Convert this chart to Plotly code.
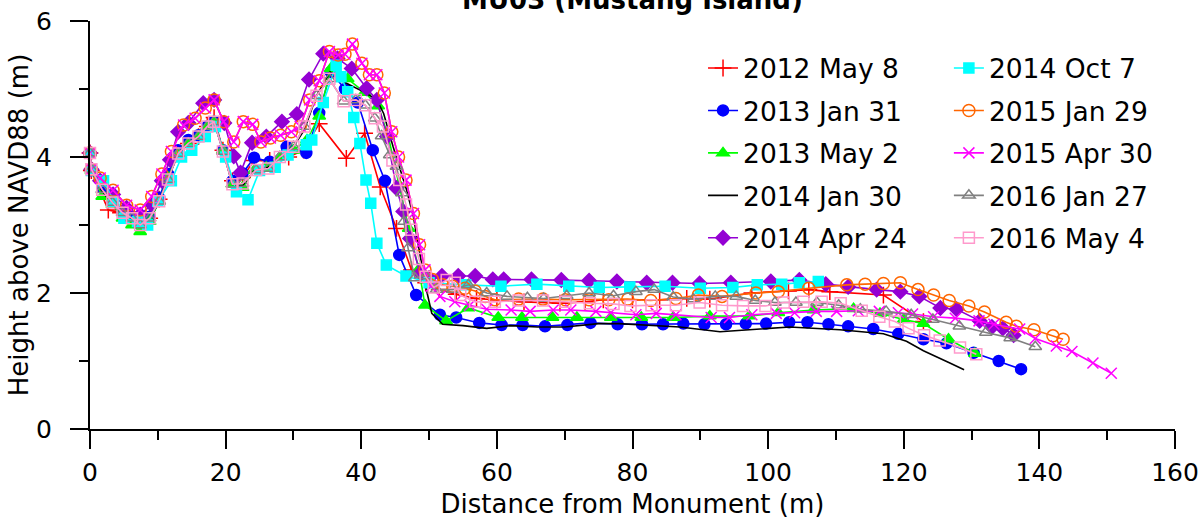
import plotly.graph_objects as go

# profile survey data, MU03 (Mustang Island)
# distance from monument (m) / height above NAVD88 (m)

x_2012_may08 = [0, 0.2, 2.7, 4.5, 6.2, 7.4, 8.8, 10.2, 11.5, 13.0, 14.5, 16.0, 17.3, 18.3, 19.6, 21.0, 22.5, 24.2,
                26.5, 29.3, 31.5, 33.8, 37.8, 40.5, 42.8, 45.2, 47.4, 49.5, 51.5, 54.0, 57.0, 60.0, 64.0, 69.3,
                73.0, 75.7, 80.0, 84.0, 88.0, 91.4, 97.6, 103.0, 106.0, 109.1, 117.0, 122.9]
y_2012_may08 = [4.06, 3.80, 3.22, 3.18, 3.10, 3.05, 3.10, 3.38, 3.70, 4.05, 4.20, 4.30, 4.45, 4.58, 4.10, 3.65, 3.70, 3.95,
                3.95, 4.00, 4.10, 4.49, 3.98, 4.35, 3.56, 2.95, 2.34, 2.15, 2.05, 1.98, 1.92, 1.90, 1.87, 1.85,
                1.87, 1.90, 1.90, 1.90, 1.92, 1.91, 2.00, 2.03, 2.05, 2.02, 1.97, 1.58]

x_2013_jan31 = [0, 0.2, 1.8, 3.3, 4.8, 6.2, 7.4, 8.8, 10.2, 11.5, 13.0, 14.5, 16.0, 17.3, 18.3, 19.6, 21.0, 22.5, 24.2,
                26.5, 29.0, 31.9, 33.8, 35.5, 37.6, 39.5, 41.7, 43.5, 45.6, 48.1, 51.6, 54.0, 57.4, 60.7, 63.8,
                67.1, 70.4, 73.8, 77.8, 81.4, 84.5, 87.5, 90.6, 93.8, 96.7, 99.7, 103.1, 105.8, 108.9, 111.8,
                115.5, 119.2, 122.9, 126.3, 130.3, 134.0, 137.3]
y_2013_jan31 = [4.06, 3.82, 3.55, 3.35, 3.20, 3.12, 3.05, 3.12, 3.40, 3.75, 4.10, 4.25, 4.32, 4.45, 4.52, 4.10, 3.65, 3.76, 3.99,
                3.93, 4.15, 4.06, 4.65, 5.25, 5.00, 4.80, 4.10, 3.65, 2.56, 1.97, 1.68, 1.64, 1.56, 1.53, 1.53,
                1.51, 1.53, 1.56, 1.54, 1.54, 1.54, 1.55, 1.54, 1.54, 1.55, 1.55, 1.57, 1.57, 1.54, 1.51,
                1.47, 1.40, 1.32, 1.26, 1.12, 1.00, 0.88]

x_2013_may02 = [0, 0.2, 1.8, 3.3, 4.8, 6.2, 7.4, 8.8, 10.2, 11.5, 13.0, 14.5, 16.0, 17.3, 18.3, 19.6, 21.0, 22.5, 24.2,
                26.0, 28.0, 30.0, 32.0, 33.8, 35.5, 38.0, 40.5, 42.5, 44.0, 45.5, 47.0, 48.5, 49.4, 52.5, 55.8,
                60.2, 63.7, 68.2, 71.8, 76.8, 81.3, 86.0, 91.4, 97.2, 101.5, 106.7, 112.6, 116.5, 120.0, 122.9,
                126.6, 130.5]
y_2013_may02 = [4.06, 3.80, 3.42, 3.30, 3.10, 3.00, 2.90, 3.05, 3.35, 3.70, 4.05, 4.20, 4.30, 4.45, 4.52, 4.10, 3.60, 3.55, 3.80,
                3.85, 4.00, 4.10, 4.25, 4.60, 5.30, 5.15, 4.95, 4.75, 4.30, 3.60, 2.95, 2.35, 1.82, 1.59, 1.78,
                1.64, 1.64, 1.64, 1.64, 1.64, 1.64, 1.64, 1.66, 1.66, 1.71, 1.75, 1.77, 1.70, 1.61, 1.55,
                1.32, 1.11]

x_2014_jan30 = [0, 0.2, 1.8, 3.3, 4.8, 6.2, 7.4, 8.8, 10.2, 11.5, 13.0, 14.5, 16.0, 17.3, 18.3, 19.6, 21.0, 22.5, 24.2,
                26.3, 28.0, 30.0, 31.6, 33.4, 35.4, 37.9, 40.5, 42.3, 43.3, 44.7, 46.7, 47.7, 48.9, 49.4, 50.4,
                52.0, 55.0, 58.5, 62.0, 66.0, 70.0, 75.0, 78.0, 82.6, 87.0, 92.9, 98.0, 103.2, 110.6, 117.0,
                120.4, 122.9, 126.8, 128.9]
y_2014_jan30 = [4.06, 3.80, 3.50, 3.30, 3.15, 3.08, 3.00, 3.08, 3.35, 3.68, 4.05, 4.20, 4.30, 4.45, 4.52, 4.10, 3.60, 3.58, 3.80,
                3.85, 4.00, 4.15, 4.40, 4.90, 5.25, 5.08, 4.95, 4.84, 4.64, 4.15, 3.51, 3.12, 2.44, 2.14, 1.70,
                1.54, 1.52, 1.48, 1.52, 1.50, 1.50, 1.55, 1.55, 1.53, 1.50, 1.43, 1.47, 1.50, 1.46, 1.40,
                1.29, 1.15, 0.97, 0.87]

x_2014_apr24 = [0, 0.2, 1.5, 3.4, 5.4, 7.4, 9.1, 10.6, 11.8, 13.0, 14.5, 16.7, 18.3, 19.8, 21.2, 22.2, 23.9, 26.0,
                28.3, 30.5, 32.3, 34.4, 36.5, 38.6, 40.8, 42.3, 43.8, 45.2, 46.2, 47.2, 48.7, 50.0, 51.9, 54.3,
                56.8, 59.4, 61.0, 65.1, 69.5, 73.6, 77.7, 82.1, 85.9, 89.9, 94.5, 100.4, 104.6, 108.5, 111.8,
                116.0, 119.5, 122.3, 125.4, 127.8, 131.2, 133.0, 134.6, 136.2]
y_2014_apr24 = [4.06, 3.82, 3.65, 3.45, 3.25, 3.15, 3.30, 3.65, 3.96, 4.37, 4.50, 4.79, 4.84, 4.50, 4.01, 3.77, 4.21, 4.30,
                4.52, 4.63, 5.14, 5.52, 5.45, 5.30, 5.01, 4.84, 4.30, 3.54, 3.20, 2.80, 2.29, 2.22, 2.25, 2.25,
                2.25, 2.20, 2.20, 2.20, 2.19, 2.18, 2.17, 2.15, 2.15, 2.14, 2.15, 2.17, 2.19, 2.13, 2.09,
                2.05, 2.02, 1.95, 1.78, 1.76, 1.59, 1.50, 1.48, 1.38]

x_2014_oct07 = [0, 0.2, 2.0, 3.5, 5.0, 7.0, 8.5, 10.0, 12.0, 13.5, 15.0, 17.0, 18.5, 20.0, 21.6, 23.3, 25.0, 27.3,
                29.2, 31.9, 32.7, 34.4, 36.3, 37.0, 38.0, 38.9, 39.8, 40.7, 41.4, 42.3, 43.7, 46.6, 50.0, 55.4,
                60.6, 65.9, 70.6, 75.1, 79.6, 84.8, 90.0, 94.8, 98.4, 102.0, 104.6, 107.4]
y_2014_oct07 = [4.06, 3.80, 3.65, 3.35, 3.10, 3.05, 3.00, 3.35, 3.65, 4.00, 4.10, 4.30, 4.45, 4.00, 3.49, 3.37, 3.80, 3.85,
                4.03, 4.18, 4.25, 4.80, 5.35, 5.18, 4.96, 4.58, 4.20, 3.66, 3.32, 2.73, 2.41, 2.25, 2.15, 2.12,
                2.10, 2.13, 2.10, 2.08, 2.09, 2.10, 2.07, 2.08, 2.12, 2.13, 2.15, 2.17]

x_2015_jan29 = [0, 0.2, 1.5, 3.4, 5.4, 7.4, 9.1, 10.6, 12.0, 13.8, 15.5, 17.0, 18.3, 19.7, 21.2, 22.6, 24.0, 25.2,
                26.6, 28.1, 29.7, 31.0, 32.4, 33.8, 35.3, 36.6, 37.6, 38.7, 40.1, 41.2, 42.3, 43.4, 44.5, 45.5,
                46.6, 47.7, 48.6, 49.4, 50.5, 52.0, 53.5, 55.3, 56.8, 58.3, 59.7, 63.2, 66.8, 70.1, 73.6, 76.5,
                79.3, 82.7, 86.4, 89.7, 93.2, 98.2, 101.5, 106.0, 111.6, 114.3, 117.0, 119.5, 122.1, 124.4,
                126.7, 129.6, 131.9, 135.1, 136.6, 139.2, 142.0, 143.5]
y_2015_jan29 = [4.06, 3.82, 3.69, 3.51, 3.29, 3.22, 3.42, 3.75, 4.08, 4.47, 4.57, 4.72, 4.84, 4.52, 4.22, 4.52, 4.48, 4.22,
                4.28, 4.32, 4.37, 4.45, 4.84, 5.12, 5.55, 5.50, 5.51, 5.66, 5.38, 5.21, 5.21, 4.94, 4.37, 4.00,
                3.66, 3.17, 2.71, 2.34, 2.20, 2.12, 2.10, 2.07, 2.03, 1.95, 1.90, 1.91, 1.91, 1.90, 1.90, 1.90,
                1.91, 1.89, 1.92, 1.97, 1.95, 2.00, 2.02, 2.07, 2.12, 2.13, 2.14, 2.15, 2.05, 1.97,
                1.89, 1.81, 1.72, 1.57, 1.51, 1.46, 1.37, 1.32]

x_2015_apr30 = [0, 0.2, 1.5, 3.4, 5.4, 7.4, 9.1, 10.6, 12.0, 13.8, 15.5, 17.0, 18.3, 19.7, 21.2, 22.6, 24.0, 25.2,
                26.6, 28.1, 29.7, 31.0, 32.4, 33.8, 35.3, 36.6, 37.6, 38.7, 40.1, 41.2, 42.3, 43.4, 44.5, 45.5,
                46.6, 47.7, 48.6, 49.4, 50.3, 51.6, 53.8, 56.0, 58.5, 62.1, 64.9, 68.3, 70.9, 74.6, 76.8, 80.5,
                83.5, 86.4, 91.6, 94.3, 97.6, 101.2, 103.9, 107.1, 110.1, 113.3, 116.4, 119.2, 121.3, 124.4,
                127.6, 131.1, 133.3, 137.1, 139.4, 142.5, 144.8, 147.9, 150.6]
y_2015_apr30 = [4.06, 3.82, 3.69, 3.51, 3.29, 3.22, 3.42, 3.75, 4.08, 4.47, 4.57, 4.72, 4.84, 4.52, 4.22, 4.52, 4.48, 4.22,
                4.28, 4.32, 4.37, 4.45, 4.84, 5.12, 5.55, 5.50, 5.51, 5.66, 5.38, 5.21, 5.21, 4.94, 4.37, 4.00,
                3.66, 3.17, 2.71, 2.34, 2.10, 1.95, 1.87, 1.82, 1.76, 1.75, 1.73, 1.75, 1.75, 1.73, 1.71, 1.68,
                1.70, 1.68, 1.64, 1.64, 1.68, 1.70, 1.71, 1.73, 1.73, 1.74, 1.73, 1.71, 1.69, 1.65,
                1.63, 1.59, 1.54, 1.47, 1.33, 1.22, 1.14, 0.97, 0.82]

x_2016_jan27 = [0, 0.2, 1.8, 3.3, 4.8, 6.2, 7.4, 8.8, 10.2, 11.5, 13.0, 14.5, 16.0, 17.3, 18.3, 19.6, 21.0, 22.5, 24.5,
                26.3, 28.0, 30.0, 31.6, 33.4, 35.3, 37.4, 39.2, 40.6, 42.0, 43.0, 44.2, 45.2, 46.0, 46.3, 46.9,
                47.9, 49.5, 51.1, 53.5, 55.8, 58.5, 61.5, 64.5, 66.9, 70.3, 73.6, 77.2, 80.5, 83.2, 86.0, 89.0,
                92.2, 95.3, 98.1, 101.0, 104.1, 107.2, 110.4, 113.6, 117.4, 121.1, 124.3, 128.2, 132.1, 135.7,
                139.4]
y_2016_jan27 = [4.06, 3.82, 3.52, 3.33, 3.18, 3.10, 3.00, 3.10, 3.35, 3.67, 4.05, 4.20, 4.30, 4.45, 4.52, 4.08, 3.60, 3.61, 3.81,
                3.83, 4.00, 4.15, 4.45, 4.90, 5.15, 4.82, 4.84, 4.76, 4.57, 4.31, 4.03, 3.86, 3.47, 3.05, 2.66,
                2.22, 2.25, 2.05, 2.05, 2.12, 2.00, 1.95, 1.93, 1.92, 1.96, 2.00, 1.96, 2.02, 2.05, 1.94, 1.91,
                1.95, 1.95, 1.89, 1.86, 1.86, 1.86, 1.82, 1.76, 1.73, 1.68, 1.61, 1.51, 1.42, 1.34,
                1.21]

x_2016_may04 = [0, 0.2, 1.8, 3.3, 4.8, 6.2, 7.4, 8.8, 10.2, 11.5, 13.0, 14.5, 16.0, 17.3, 18.3, 19.6, 21.0, 22.5, 24.5,
                26.3, 28.0, 30.0, 31.6, 33.4, 35.3, 37.4, 39.2, 40.6, 42.0, 43.2, 44.6, 45.6, 46.6, 47.4, 48.5,
                49.5, 50.7, 52.6, 53.8, 54.6, 56.8, 59.7, 63.2, 66.8, 70.1, 73.7, 77.2, 79.7, 82.8, 86.4, 89.9,
                93.2, 96.3, 99.6, 102.3, 105.2, 107.9, 110.7, 113.8, 116.4, 118.7, 120.7, 123.0, 125.3, 128.3,
                130.7]
y_2016_may04 = [4.06, 3.82, 3.52, 3.33, 3.18, 3.10, 3.00, 3.10, 3.35, 3.67, 4.05, 4.20, 4.30, 4.45, 4.52, 4.08, 3.60, 3.61, 3.81,
                3.83, 4.00, 4.15, 4.45, 4.90, 5.15, 4.82, 4.84, 4.76, 4.57, 4.45, 3.95, 3.66, 3.30, 2.93, 2.50,
                2.24, 2.08, 2.19, 2.15, 1.97, 1.87, 1.87, 1.89, 1.89, 1.87, 1.85, 1.84, 1.81, 1.82, 1.82, 1.86,
                1.82, 1.81, 1.81, 1.86, 1.87, 1.87, 1.85, 1.74, 1.65, 1.58, 1.48, 1.38, 1.30, 1.20,
                1.10]

# name, x, y, colour, marker symbol, marker size, legend
series = [
    ("2012 May 8", x_2012_may08, y_2012_may08, "#FF0000", "cross-thin-open", 12, "legend"),
    ("2013 Jan 31", x_2013_jan31, y_2013_jan31, "#0000FF", "circle", 11, "legend"),
    ("2013 May 2", x_2013_may02, y_2013_may02, "#00FF00", "triangle-up", 11, "legend"),
    ("2014 Jan 30", x_2014_jan30, y_2014_jan30, "#000000", None, 0, "legend"),
    ("2014 Apr 24", x_2014_apr24, y_2014_apr24, "#9400D3", "diamond", 11, "legend"),
    ("2014 Oct 7", x_2014_oct07, y_2014_oct07, "#00FFFF", "square", 10, "legend2"),
    ("2015 Jan 29", x_2015_jan29, y_2015_jan29, "#FF6600", "circle-open", 12, "legend2"),
    ("2015 Apr 30", x_2015_apr30, y_2015_apr30, "#FF00FF", "x-thin-open", 11, "legend2"),
    ("2016 Jan 27", x_2016_jan27, y_2016_jan27, "#808080", "triangle-up-open", 11, "legend2"),
    ("2016 May 4", x_2016_may04, y_2016_may04, "#FF99CC", "square-open", 11, "legend2"),
]

fig = go.Figure()
for name, xs, ys, col, sym, size, leg in series:
    if sym is None:
        mode = "lines"
        marker = None
    else:
        mode = "lines+markers"
        marker = dict(symbol=sym, size=size, color=col, line=dict(color=col, width=1.5))
    fig.add_trace(go.Scatter(x=xs, y=ys, name=name, mode=mode, marker=marker, legendgroup=name,
                             line=dict(color=col, width=1.6), cliponaxis=False, legend=leg))

FONT = "DejaVu Sans, Arial, sans-serif"
tick_font = dict(family=FONT, size=25, color="black")
title_font = dict(family=FONT, size=26, color="black")

fig.update_layout(
    width=1199, height=524,
    margin=dict(l=90, r=24, t=21, b=95, autoexpand=False),
    paper_bgcolor="white", plot_bgcolor="white",
    font=dict(family=FONT, color="black"),
    title=dict(text="<b>MU03 (Mustang Island)</b>", x=0.5275, xanchor="center",
               y=0.982, yref="container", yanchor="bottom",
               font=dict(family=FONT, size=26, color="black")),
    legend=dict(x=0.565, y=0.943, xanchor="left", yanchor="top", bgcolor="rgba(0,0,0,0)",
                font=dict(family=FONT, size=26.5), tracegroupgap=5, itemwidth=30),
    legend2=dict(x=0.7916, y=0.943, xanchor="left", yanchor="top", bgcolor="rgba(0,0,0,0)",
                 font=dict(family=FONT, size=26.5), tracegroupgap=5, itemwidth=30),
    xaxis=dict(range=[0, 160], dtick=20, tick0=0, showgrid=False, zeroline=False, automargin=False,
               showline=True, linecolor="black", linewidth=2,
               ticks="outside", ticklen=18, tickwidth=2, tickcolor="black", ticklabelstandoff=2,
               minor=dict(dtick=10, ticks="outside", ticklen=9, tickwidth=2, tickcolor="black", showgrid=False),
               tickfont=tick_font,
               title=dict(text="Distance from Monument (m)", font=title_font, standoff=9)),
    yaxis=dict(range=[0, 6], dtick=2, tick0=0, showgrid=False, zeroline=False, automargin=False,
               showline=True, linecolor="black", linewidth=2,
               ticks="outside", ticklen=18, tickwidth=2, tickcolor="black", ticklabelstandoff=13,
               minor=dict(dtick=1, ticks="outside", ticklen=9, tickwidth=2, tickcolor="black", showgrid=False),
               tickfont=tick_font,
               title=dict(text="Height above NAVD88 (m)", font=title_font, standoff=0)),
)

# the page body has a default 8px margin; drop it so the figure sits at the window corner
fig.write_html("out.html", config={"displayModeBar": False},
               post_script="document.body.style.margin = '0px';")
